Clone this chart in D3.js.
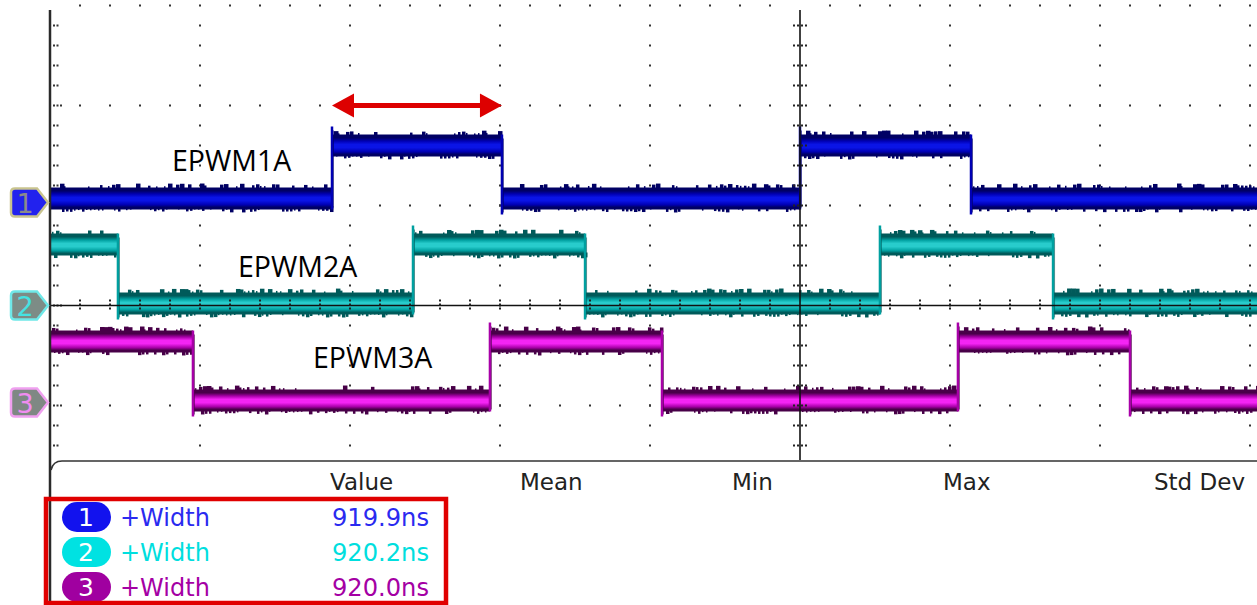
<!DOCTYPE html>
<html>
<head>
<meta charset="utf-8">
<script src="https://cdn.jsdelivr.net/npm/d3@7"></script>
<style>
  html, body { margin: 0; padding: 0; background: #fff; }
  svg { display: block; }
</style>
</head>
<body>
<div id="chart"></div>
<script>
// time in divisions (0 = centre graticule), level in divisions (0 = centre line)
const channelNames = ['EPWM1A', 'EPWM2A', 'EPWM3A'];
const lowLevels = [1.07, 0.02, -0.95];
const highLevels = [1.6, 0.61, -0.36];
const groundLevels = [1.03, 0, -0.97];
const startHigh = [false, true, true];
const channelEdges = [
  [-3.12, -1.987, 0, 1.14],
  [-4.547, -2.58, -1.433, 0.533, 1.687],
  [-4.047, -2.067, -0.92, 1.053, 2.2]
];
const arrowSpan = [-3.12, -1.987];
const arrowLevel = 2;
const statHeaders = ['Value', 'Mean', 'Min', 'Max', 'Std Dev'];
const measNames = ['+Width', '+Width', '+Width'];
const measValues = ['919.9ns', '920.2ns', '920.0ns'];

const W = 1257, H = 605;
const palette = [
  { dark: '#000064', mid: '#0000b4', bright: '#0a14e6', pill: '#1212ee', text: '#2a2af0', marker: '#2222ee', markerStroke: '#c9c48e', num: '#8a8a8a' },
  { dark: '#005a5a', mid: '#00a0a0', bright: '#28cccc', pill: '#00e2e2', text: '#00dede', marker: '#7d8c86', markerStroke: '#6fe8e8', num: '#45e2e2' },
  { dark: '#480048', mid: '#a800a8', bright: '#f424f4', pill: '#a000a0', text: '#a400a4', marker: '#7f8884', markerStroke: '#f0a0f0', num: '#f08cf0' }
];

const x = d3.scaleLinear().domain([-5, 3]).range([50, 1250]);
const y = d3.scaleLinear().domain([0, 1]).range([305.5, 205.5]);
const plotBottom = 460;

const svg = d3.select('#chart').append('svg').attr('width', W).attr('height', H);
const defs = svg.append('defs');
defs.append('clipPath').attr('id', 'plot').append('rect')
  .attr('x', 50).attr('y', 0).attr('width', W - 50).attr('height', plotBottom);

palette.forEach((p, i) => {
  const g = defs.append('linearGradient').attr('id', `band${i}`).attr('x1', 0).attr('y1', 0).attr('x2', 0).attr('y2', 1);
  [[0, p.dark], [0.15, p.dark], [0.3, p.mid], [0.45, p.bright], [0.6, p.bright], [0.78, p.mid], [0.9, p.dark], [1, p.dark]]
    .forEach(([o, c]) => g.append('stop').attr('offset', o).attr('stop-color', c));
});

const hash = (a, b) => {
  const s = Math.sin(a * 12.9898 + b * 78.233) * 43758.5453;
  return s - Math.floor(s);
};

// graticule
const grid = svg.append('g').attr('clip-path', 'url(#plot)').attr('fill', '#333');
const majorRows = d3.range(-1, 4).map((v) => y(v));
const majorCols = d3.range(-4, 4).filter((v) => v !== 0).map((v) => x(v));
majorRows.forEach((ry) => {
  if (Math.abs(ry - y(0)) < 1) return;
  for (let px = 80; px < W; px += 30) {
    if (Math.abs(px - x(0)) < 2) continue;
    grid.append('rect').attr('x', px - 1).attr('y', ry - 1).attr('width', 2).attr('height', 2);
  }
});
majorCols.forEach((cx) => {
  for (let k = -15; k <= 8; k++) {
    const py = y(0) + k * 20;
    if (py < 10 || py > plotBottom - 4) continue;
    grid.append('rect').attr('x', cx - 1).attr('y', py - 1).attr('width', 2).attr('height', 2);
  }
});
// left axis ticks
for (let k = -15; k <= 7; k++) {
  const py = y(0) + k * 20;
  if (py < 20 || py > plotBottom - 4) continue;
  const n = k % 5 === 0 ? 3 : 2;
  for (let j = 0; j < n; j++) {
    grid.append('rect').attr('x', 53 + j * 3.5).attr('y', py - 1).attr('width', 2).attr('height', 2);
  }
}

// waveforms
const waves = svg.append('g').attr('clip-path', 'url(#plot)');
channelNames.forEach((name, ch) => {
  const p = palette[ch];
  const pts = [x.domain()[0], ...channelEdges[ch], 3.2];
  let high = startHigh[ch];
  const segs = [];
  for (let i = 0; i < pts.length - 1; i++) {
    segs.push({ x0: pts[i], x1: pts[i + 1], level: high ? highLevels[ch] : lowLevels[ch] });
    high = !high;
  }
  const g = waves.append('g');
  // noise spikes
  segs.forEach((s, si) => {
    const left = x(s.x0) + 2, right = x(s.x1) - 2, cy = y(s.level);
    let idx = 0;
    for (let px = left; px < right; px += 4) {
      idx++;
      const r1 = hash(idx + si * 97, ch + 1);
      const r2 = hash(idx * 3 + si, ch + 7);
      if (r1 < 0.5) {
        g.append('rect').attr('x', px).attr('y', cy - 10 - (2 + r2 * 3)).attr('width', 1.5 + Math.floor(r2 * 4))
          .attr('height', 3 + r2 * 3).attr('fill', p.dark);
      }
      const r3 = hash(idx + si * 31, ch + 13);
      if (r3 < 0.6) {
        g.append('rect').attr('x', px + 2).attr('y', cy + 8).attr('width', 1.5 + Math.floor(r3 * 4))
          .attr('height', 3 + r3 * 5).attr('fill', p.dark);
      }
    }
  });
  g.selectAll('rect.band').data(segs).join('rect')
    .attr('class', 'band')
    .attr('x', (s) => x(s.x0))
    .attr('width', (s) => x(s.x1) - x(s.x0))
    .attr('y', (s) => y(s.level) - 11)
    .attr('height', 22)
    .attr('fill', `url(#band${ch})`);
  // edges
  channelEdges[ch].forEach((e, ei) => {
    const rising = (ei % 2 === 0) !== startHigh[ch];
    const yTop = y(highLevels[ch]) - 11 - (rising ? 8 : 0);
    const yBot = y(lowLevels[ch]) + 11 + (rising ? 0 : 5);
    g.append('line').attr('x1', x(e)).attr('x2', x(e)).attr('y1', yTop).attr('y2', yBot)
      .attr('stroke', p.mid).attr('stroke-width', 2.5);
    g.append('line').attr('x1', x(e) + 1.5).attr('x2', x(e) + 1.5).attr('y1', yTop + 4).attr('y2', yBot - 2)
      .attr('stroke', p.dark).attr('stroke-width', 1).attr('opacity', 0.6);
  });
});

// centre lines with ticks
const cross = svg.append('g').attr('clip-path', 'url(#plot)');
cross.append('line').attr('x1', 50).attr('x2', W).attr('y1', y(0)).attr('y2', y(0))
  .attr('stroke', '#111').attr('stroke-width', 1.6);
cross.append('line').attr('x1', x(0)).attr('x2', x(0)).attr('y1', 10).attr('y2', plotBottom)
  .attr('stroke', '#111').attr('stroke-width', 1.6);
for (let px = 80; px < W; px += 30) {
  if (Math.abs(px - x(0)) < 2) continue;
  cross.append('line').attr('x1', px).attr('x2', px).attr('y1', y(0) - 6).attr('y2', y(0) + 6)
    .attr('stroke', '#222').attr('stroke-width', 2).attr('stroke-dasharray', '2,2');
}
for (let k = -15; k <= 7; k++) {
  const py = y(0) + k * 20;
  if (py < 10 || py > plotBottom - 4 || k === 0) continue;
  cross.append('line').attr('x1', x(0) - 7).attr('x2', x(0) + 7).attr('y1', py).attr('y2', py)
    .attr('stroke', '#222').attr('stroke-width', 2).attr('stroke-dasharray', '2,2');
}

// left axis
svg.append('line').attr('x1', 50).attr('x2', 50).attr('y1', 10).attr('y2', H)
  .attr('stroke', '#2a2a2a').attr('stroke-width', 2.5);

// channel markers
channelNames.forEach((name, ch) => {
  const p = palette[ch];
  const cy = y(groundLevels[ch]);
  const path = `M15,${cy - 14} L37,${cy - 14} L48,${cy} L37,${cy + 14} L15,${cy + 14} Q11,${cy + 14} 11,${cy + 10} L11,${cy - 10} Q11,${cy - 14} 15,${cy - 14} Z`;
  svg.append('path').attr('d', path).attr('fill', p.marker).attr('stroke', p.markerStroke).attr('stroke-width', 2.5);
  svg.append('text').attr('x', 25).attr('y', cy + 10).attr('text-anchor', 'middle')
    .attr('font-family', 'DejaVu Sans, sans-serif').attr('font-size', 27).attr('fill', p.num).text(ch + 1);
});

// channel labels
const labelPos = [[172, 171], [238, 277], [313, 368]];
channelNames.forEach((name, ch) => {
  svg.append('text').attr('x', labelPos[ch][0]).attr('y', labelPos[ch][1])
    .attr('font-family', 'Open Sans, Noto Sans, sans-serif').attr('font-size', 28.5).attr('fill', '#000').text(name);
});

// red arrow
const ay = y(arrowLevel);
const ax0 = x(arrowSpan[0]), ax1 = x(arrowSpan[1]);
svg.append('line').attr('x1', ax0 + 15).attr('x2', ax1 - 15).attr('y1', ay).attr('y2', ay)
  .attr('stroke', '#dd0000').attr('stroke-width', 5);
svg.append('path').attr('fill', '#dd0000')
  .attr('d', `M${ax0},${ay} L${ax0 + 22},${ay - 12} L${ax0 + 22},${ay + 12} Z M${ax1},${ay} L${ax1 - 22},${ay - 12} L${ax1 - 22},${ay + 12} Z`);

// measurement panel
svg.append('path').attr('d', `M51,470 Q53,461 62,461 L${W},461`)
  .attr('fill', 'none').attr('stroke', '#333').attr('stroke-width', 1.6);
const headerX = [330, 520, 732, 943, 1154];
svg.selectAll('text.hdr').data(statHeaders).join('text')
  .attr('class', 'hdr')
  .attr('x', (d, i) => headerX[i]).attr('y', 490)
  .attr('font-family', 'DejaVu Sans, sans-serif').attr('font-size', 23).attr('fill', '#222')
  .text((d) => d);

const rowY = d3.scalePoint().domain(d3.range(measNames.length)).range([517, 587]);
measNames.forEach((m, i) => {
  const p = palette[i];
  const cy = rowY(i);
  svg.append('rect').attr('x', 62).attr('y', cy - 15).attr('width', 49).attr('height', 30).attr('rx', 15)
    .attr('fill', p.pill);
  svg.append('text').attr('x', 86).attr('y', cy + 9).attr('text-anchor', 'middle')
    .attr('font-family', 'DejaVu Sans, sans-serif').attr('font-size', 25).attr('fill', '#fff').text(i + 1);
  svg.append('text').attr('x', 120).attr('y', cy + 9)
    .attr('font-family', 'DejaVu Sans, sans-serif').attr('font-size', 24).attr('fill', p.text).text(m);
  svg.append('text').attr('x', 429).attr('y', cy + 9).attr('text-anchor', 'end')
    .attr('font-family', 'DejaVu Sans, sans-serif').attr('font-size', 24).attr('fill', p.text)
    .attr('textLength', 97).attr('lengthAdjust', 'spacingAndGlyphs').text(measValues[i]);
});
svg.append('rect').attr('x', 46).attr('y', 499).attr('width', 400).attr('height', 104)
  .attr('fill', 'none').attr('stroke', '#e00000').attr('stroke-width', 4.5);
</script>
</body>
</html>
